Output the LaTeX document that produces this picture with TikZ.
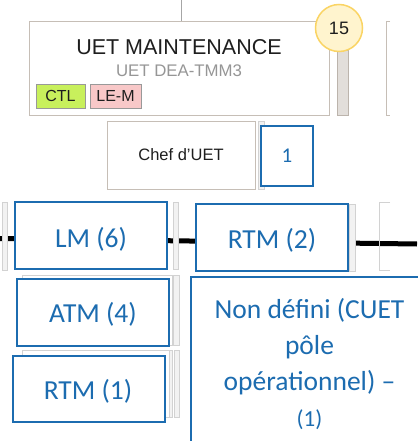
\documentclass[tikz,border=0pt]{standalone}
\usepackage{fontspec}
\setmainfont{Liberation Sans}
\newfontfamily\calib{Carlito}
\definecolor{bl}{RGB}{28,108,176}
\definecolor{gb}{RGB}{198,190,182}
\definecolor{barf}{RGB}{226,222,218}
\definecolor{barb}{RGB}{188,180,172}
\definecolor{lbarf}{RGB}{242,242,242}
\definecolor{lbarb}{RGB}{210,210,210}
\definecolor{ctlg}{RGB}{200,240,92}
\definecolor{lemp}{RGB}{248,200,200}
\definecolor{circf}{RGB}{255,244,206}
\definecolor{circb}{RGB}{250,212,100}
\definecolor{txt}{RGB}{30,30,30}
\definecolor{subt}{RGB}{150,150,150}
\tikzset{
  rbox/.style={draw=gb, line width=1pt, fill=white, inner sep=0pt, rectangle},
  tag/.style={draw=gray!80, line width=0.9pt, inner sep=0pt, rectangle, minimum height=24pt, text=txt, font=\fontsize{16}{16}\selectfont},
  bar/.style={draw=barb, fill=barf, line width=0.8pt, inner sep=0pt, rectangle},
  lbar/.style={draw=lbarb, fill=lbarf, line width=0.8pt, inner sep=0pt, rectangle},
  bbox/.style={draw=bl, line width=2.2pt, fill=white, inner sep=0pt, rectangle},
  btext/.style={text=bl, inner sep=0pt, font=\calib\fontsize{27.5}{36}\selectfont},
  shadowbox/.style={draw=lbarb, line width=0.8pt, inner sep=0pt, rectangle},
}
\begin{document}
\begin{tikzpicture}[x=1pt,y=-1pt]
\useasboundingbox (0,0) rectangle (417,441);
% ---- top part ----
\coordinate (topin) at (181,0);
\node[rbox, minimum width=300pt, minimum height=93pt] (main) at (179,68.5) {};
\draw[gray!70, line width=0.8pt] (topin) -- (topin |- main.north);
\node[anchor=base, inner sep=0pt, text=txt, font=\fontsize{21.5}{22}\selectfont] (title) at (179,55) {UET MAINTENANCE};
\node[anchor=base, inner sep=0pt, text=subt, font=\fontsize{16.8}{17}\selectfont] (sub) at (179,77) {UET DEA-TMM3};
\node[tag, fill=ctlg, minimum width=49pt] (ctl) at (60.5,96) {CTL};
\node[tag, fill=lemp, minimum width=51pt] (lem) at (115.5,96) {LE-M};
\node[bar, minimum width=11pt, minimum height=65pt] (mbar) at (342.5,82.5) {};
\node[circle, draw=circb, fill=circf, line width=1.5pt, minimum size=47pt, inner sep=0pt, text=txt, font=\fontsize{18}{18}\selectfont] (cnt) at (339,28) {15};
\draw[gb, line width=1pt] (390,22) -- (386,22) -- (386,115) -- (390,115);
\node[rbox, minimum width=148pt, minimum height=68pt, text=txt, font=\fontsize{16.5}{17}\selectfont] (chef) at (181,155) {Chef d’UET};
\node[bar, draw=lbarb, fill=lbarf, minimum width=6pt, minimum height=68pt] (cbar) at (261,155) {};
\node[bbox, minimum width=52pt, minimum height=60pt, text=bl, font=\calib\fontsize{21}{21}\selectfont] (one) at (287,156) {1};
% ---- bottom part ----
\coordinate (hl) at (0,238.5);
\coordinate (hr) at (417,244);
\draw[black, line width=5pt] (hl) -- (hr);
\node[lbar, minimum width=5pt, minimum height=68pt] (b0) at (4.5,236) {};
\node[bbox, minimum width=152pt, minimum height=67pt] (lm) at (91,235.5) {};
\node[btext, anchor=base] (lmt) at (91,247) {LM (6)};
\node[lbar, minimum width=5pt, minimum height=67pt] (b1) at (175.5,235.5) {};
\node[bbox, minimum width=152pt, minimum height=67pt] (rtm2) at (272,237.5) {};
\node[btext, anchor=base] (rtm2t) at (272,248) {RTM (2)};
\node[lbar, minimum width=6pt, minimum height=67pt] (b2) at (352,237.5) {};
\draw[lbarb, line width=1pt] (390,202) -- (379,202) -- (379,270) -- (390,270);
% ATM
\node[shadowbox, minimum width=150pt, minimum height=70pt] (atmsh) at (97,310) {};
\node[bbox, minimum width=152pt, minimum height=67pt] (atm) at (93,312.5) {};
\node[btext, anchor=base] (atmt) at (93,322) {ATM (4)};
\node[lbar, minimum width=6pt, minimum height=70pt] (b3) at (176,310) {};
% RTM (1)
\node[shadowbox, minimum width=148pt, minimum height=67pt] (rtm1sh) at (96,383.5) {};
\node[bbox, minimum width=152pt, minimum height=66pt] (rtm1) at (89,389) {};
\node[btext, anchor=base] (rtm1t) at (88,399) {RTM (1)};
\node[lbar, minimum width=3pt, minimum height=67pt] (b4) at (170.5,383.5) {};
\node[lbar, minimum width=5pt, minimum height=67pt] (b5) at (176.5,383.5) {};
% Non defini
\node[bbox, minimum width=237pt, minimum height=180pt] (nd) at (309.5,367) {};
\node[btext, align=center, anchor=north] (ndt) at (309.5,298.5) {Non défini (CUET\\pôle\\opérationnel) –\\{\fontsize{23}{36}\selectfont (1)}};
\end{tikzpicture}
\end{document}
